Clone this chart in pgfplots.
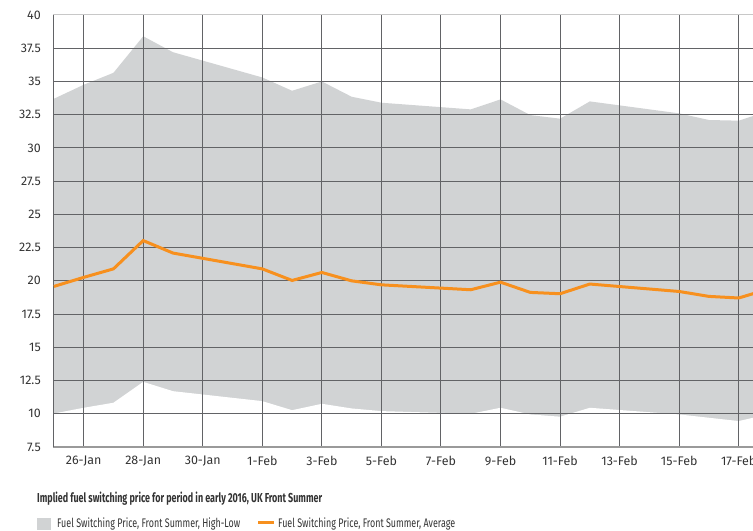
\documentclass[border=0pt]{standalone}
\usepackage{fontspec}
\setmainfont{Fira Sans}
\usepackage{graphicx}
\usepackage{pgfplots}
\pgfplotsset{compat=1.18}
\usepackage{pgfplotstable}

\definecolor{fillc}{HTML}{D1D3D4}
\definecolor{orangec}{HTML}{F7901E}
\definecolor{gridc}{HTML}{626366}
\definecolor{gridlight}{HTML}{C8C8C8}
\definecolor{bottomc}{HTML}{9A9A9A}
\definecolor{textc}{HTML}{333333}

% x = day number (1-Feb = 32)
\pgfplotstableread{
x   hi     avg    lo
25  33.70  19.58  10.02
26  34.75  20.26  10.45
27  35.65  20.90  10.83
28  38.40  23.03  12.40
29  37.20  22.09  11.70
32  35.30  20.90  10.95
33  34.30  20.03  10.27
34  35.00  20.63  10.75
35  33.85  20.00  10.40
36  33.40  19.70  10.20
39  32.90  19.33  10.00
40  33.65  19.90  10.45
41  32.47  19.13   9.95
42  32.20  19.03   9.78
43  33.50  19.76  10.45
46  32.60  19.20   9.95
47  32.10  18.83   9.70
48  32.05  18.71   9.45
49  32.78  19.38   9.97
}\data

\begin{document}
\begin{tikzpicture}
\begin{axis}[
  set layers,
  scale only axis, width=700bp, height=432bp,
  xmin=24.97, xmax=48.48, ymin=7.5, ymax=40,
  ytick={7.5,10,12.5,15,17.5,20,22.5,25,27.5,30,32.5,35,37.5},
  extra y ticks={40},
  extra y tick style={major grid style={draw=gridlight, line width=1bp}},
  xtick={26,28,30,32,34,36,38,40,42,44,46,48},
  xticklabels={26-Jan,28-Jan,30-Jan,1-Feb,3-Feb,5-Feb,7-Feb,9-Feb,11-Feb,13-Feb,15-Feb,17-Feb},
  grid=major,
  major grid style={draw=gridc, line width=1bp},
  major tick length=0pt,
  axis x line*=bottom, axis y line*=left,
  x axis line style={draw=bottomc, line width=1.5bp, -},
  y axis line style={draw=gridc, line width=1bp, -},
  /pgf/number format/assume math mode=true,
  tick label style={font=\fontsize{12.5}{14}\selectfont, text=textc, inner sep=0pt},
  yticklabel style={anchor=east, xshift=-12bp},
  xticklabel style={anchor=north, yshift=-9bp},
  clip=true,
]
\addplot[fill=fillc, draw=none, on layer=axis background] table[x=x, y=hi]{\data} \closedcycle;
\addplot[fill=white, draw=none, on layer=axis background] table[x=x, y=lo]{\data} \closedcycle;
\addplot[draw=orangec, line width=3bp, line join=miter] table[x=x, y=avg]{\data};
\end{axis}
% title
\node[anchor=base west, inner sep=0pt, text=textc] at (-16bp,-55.5bp)
  {\resizebox{285bp}{\height}{\fontsize{13}{15}\selectfont\bfseries Implied fuel switching price for period in early 2016, UK Front Summer}};
% legend
\fill[fillc] (-16.3bp,-83bp) rectangle (-2bp,-71.3bp);
\node[anchor=base west, inner sep=0pt, text=textc] at (4bp,-80.3bp)
  {\resizebox{183bp}{\height}{\fontsize{12.5}{14}\selectfont Fuel Switching Price, Front Summer, High-Low}};
\draw[orangec, line width=3bp] (205.3bp,-75.7bp) -- (221bp,-75.7bp);
\node[anchor=base west, inner sep=0pt, text=textc] at (225bp,-80.3bp)
  {\resizebox{177bp}{\height}{\fontsize{12.5}{14}\selectfont Fuel Switching Price, Front Summer, Average}};
\pgfresetboundingbox
\path[use as bounding box] (-53bp,-84bp) rectangle (700bp,447bp);
\end{tikzpicture}
\end{document}
